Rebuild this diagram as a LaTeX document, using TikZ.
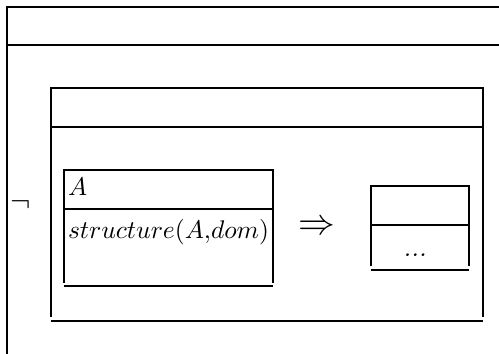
\documentclass[tikz,border=0pt]{standalone}
\begin{document}
\begin{tikzpicture}[x=0.392pt,y=-0.392pt,
  frame/.style={line width=0.55pt, line cap=butt},
  lbl/.style={inner sep=0pt, outer sep=0pt, anchor=base west},
  sym/.style={inner sep=0pt, outer sep=0pt}]
\useasboundingbox (0,0) rectangle (499,354);
% outer box (open to right and bottom)
\draw[frame] (7,354) -- (7,7) -- (499,7);
\draw[frame] (7,45) -- (499,45);
% middle box
\draw[frame] (51,317) -- (51,88) -- (483,88) -- (483,317);
\draw[frame] (51,127) -- (483,127);
\draw[frame] (51,321) -- (483,321);
% box A
\draw[frame] (64,283) -- (64,170) -- (273,170) -- (273,283);
\draw[frame] (64,209) -- (273,209);
\draw[frame] (64,286) -- (273,286);
% right box
\draw[frame] (371,266) -- (371,186) -- (469,186) -- (469,266);
\draw[frame] (371,225) -- (469,225);
\draw[frame] (371,270) -- (469,270);
% texts
\node[sym, anchor=base] (neg) at (21,211.9) {\fontsize{11.5pt}{14pt}\selectfont$\neg$};
\node[lbl] (a) at (68,195) {$A$};
\node[lbl] (s) at (68,238.5) {$structure(A{,}dom)$};
\node[sym, anchor=base] (imp) at (317,234.6) {\fontsize{13.5pt}{16pt}\selectfont$\Rightarrow$};
\node[sym, anchor=base] (dots) at (415,256.5) {\textit{...}};
\end{tikzpicture}
\end{document}
